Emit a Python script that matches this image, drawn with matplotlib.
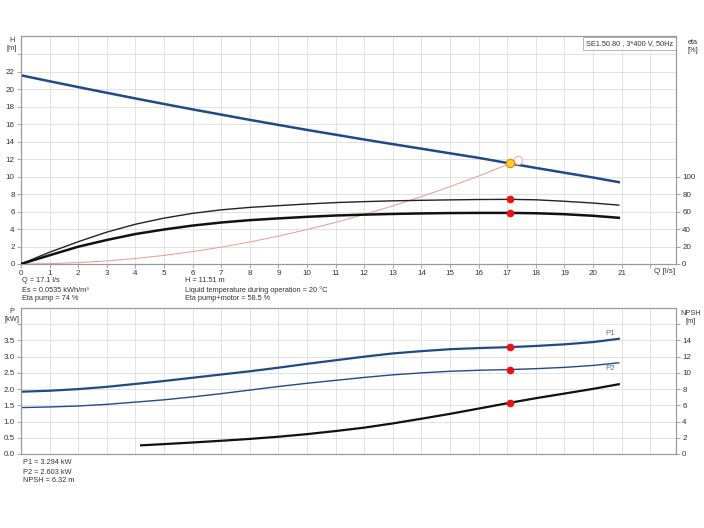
import matplotlib
matplotlib.use("Agg")
import matplotlib.pyplot as plt

# pump curve H(Q)
q_h = [0, 1, 2, 3, 4, 5, 6, 7, 8, 9, 10, 11, 12, 13, 14, 15, 16, 17.1, 18, 19, 20, 20.9]
h = [21.6, 20.92, 20.25, 19.6, 18.95, 18.32, 17.7, 17.1, 16.5, 15.92, 15.35, 14.8, 14.25,
     13.72, 13.2, 12.67, 12.15, 11.51, 11.0, 10.45, 9.9, 9.37]

# efficiency curves [%]
q_eta = [0, 1, 2, 3, 4, 5, 6, 7, 8, 9, 10, 11, 12, 13, 14, 15, 16, 17.1, 18, 19, 20, 20.9]
eta_pump = [0, 13.5, 25.5, 36.5, 45.5, 52.5, 58, 62, 64.8, 66.8, 68.7, 70.3, 71.4, 72.3,
            72.9, 73.4, 73.8, 74, 73.5, 71.8, 69.8, 67.4]
eta_total = [0, 10, 19.8, 27.5, 34.3, 39.5, 44, 47.5, 50.2, 52.2, 54, 55.5, 56.5, 57.3,
             57.9, 58.3, 58.5, 58.5, 58.1, 57, 55.2, 52.9]

# system curve
q_sys = [0, 1, 2, 3, 4, 5, 6, 7, 8, 9, 10, 11, 12, 13, 14, 15, 16, 17.1, 17.37]
h_sys = [0, 0.04, 0.16, 0.35, 0.63, 0.98, 1.42, 1.93, 2.52, 3.19, 3.94, 4.76, 5.67,
         6.65, 7.71, 8.86, 10.07, 11.51, 11.88]

# power and NPSH
q_p = [0, 1, 2, 3, 4, 5, 6, 7, 8, 9, 10, 11, 12, 13, 14, 15, 16, 17.1, 18, 19, 20, 20.9]
p1 = [1.92, 1.95, 2.0, 2.07, 2.16, 2.25, 2.35, 2.45, 2.55, 2.66, 2.78, 2.89, 3.0, 3.1,
      3.17, 3.23, 3.265, 3.294, 3.33, 3.38, 3.45, 3.55]
p2 = [1.43, 1.45, 1.48, 1.53, 1.60, 1.67, 1.76, 1.86, 1.97, 2.08, 2.18, 2.27, 2.36, 2.44,
      2.50, 2.55, 2.58, 2.603, 2.63, 2.67, 2.73, 2.81]
q_npsh = [4.2, 5, 6, 7, 8, 9, 10, 11, 12, 13, 14, 15, 16, 17.1, 18, 19, 20, 20.9]
npsh = [1.07, 1.22, 1.42, 1.63, 1.86, 2.13, 2.45, 2.83, 3.25, 3.77, 4.35, 4.95, 5.6,
        6.32, 6.88, 7.45, 8.03, 8.6]

# duty point
q_op = 17.1
h_op = 11.51
eta_pump_op = 74
eta_total_op = 58.5
p1_op = 3.294
p2_op = 2.603
npsh_op = 6.32

blue = "#1f4a87"
grid_c = "#dddddd"
spine_c = "#999999"
txt_c = "#333333"
fs = 5.3
fs_tick = 5.8

plt.rcParams["font.family"] = ["Liberation Sans", "DejaVu Sans"]

fig = plt.figure(figsize=(7.04, 5.28), dpi=100)


def style(ax, ax2):
    for a in (ax, ax2):
        for s in a.spines.values():
            s.set_color(spine_c)
            s.set_linewidth(0.8)
        a.tick_params(colors=spine_c, labelcolor=txt_c, labelsize=fs_tick, length=3, width=0.6, pad=1.5)
    ax.set_xlim(0, 22.9)
    ax.set_xticks(range(0, 23))
    ax.grid(True, color=grid_c, linewidth=0.6)
    ax.set_axisbelow(True)


# top chart
ax = fig.add_axes([21 / 704, 1 - 264 / 528, 655 / 704, 228 / 528])
ax2 = ax.twinx()
style(ax, ax2)
ax.set_ylim(0, 26.1)
ax.set_yticks(range(0, 25, 2))
ax.set_yticklabels([str(v) for v in range(0, 23, 2)] + [""])
ax.set_xticklabels([str(v) for v in range(0, 22)] + [""])
ax2.set_ylim(0, 261)
ax2.set_yticks(range(0, 101, 20))

ax.plot(q_sys, h_sys, color="#e79a8c", linewidth=0.7, zorder=3)
ax2.plot(q_eta, eta_pump, color="#222222", linewidth=1.0, zorder=3)
ax2.plot(q_eta, eta_total, color="#111111", linewidth=1.8, zorder=3)
ax.plot(q_h, h, color=blue, linewidth=1.8, zorder=4)
ax.plot(q_sys[-1], h_sys[-1], "o", mfc="white", mec="#eab2aa", ms=6, mew=0.8, zorder=5)
ax.plot(q_op, h_op, "o", mfc="#ffcc33", mec="#e08a00", ms=6, mew=0.8, zorder=6)
ax2.plot([q_op, q_op], [eta_pump_op, eta_total_op], "o", color="#ee1111", ms=4.5, ls="none", zorder=6)

ax.text(22.5, -0.5, "Q [l/s]", fontsize=fs_tick, color=txt_c, ha="center", va="top")
ax.text(-0.32, 26.0, "H\n[m]", fontsize=fs, color=txt_c, ha="center", va="top", linespacing=1.2, clip_on=False)
ax2.text(23.5, 258, "eta\n[%]", fontsize=fs, color=txt_c, ha="center", va="top", linespacing=1.2, clip_on=False)
ax.text(0.9962, 0.982, "SE1.50.80 , 3*400 V, 50Hz", transform=ax.transAxes, fontsize=fs, color=txt_c,
        ha="right", va="top",
        bbox=dict(facecolor="white", edgecolor="#aaaaaa", linewidth=0.6, boxstyle="square,pad=0.4"))

info = [("Q = 17.1 l/s", "H = 11.51 m"),
        ("Es = 0.0535 kWh/m\u00b3", "Liquid temperature during operation = 20 \u00b0C"),
        ("Eta pump = 74 %", "Eta pump+motor = 58.5 %")]
for i, (a, b) in enumerate(info):
    y = 281 + i * 9
    fig.text(22 / 704, 1 - y / 528, a, fontsize=fs, color=txt_c, va="center")
    fig.text(185 / 704, 1 - y / 528, b, fontsize=fs, color=txt_c, va="center")

# bottom chart
bx = fig.add_axes([21 / 704, 1 - 454 / 528, 655 / 704, 146 / 528])
bx2 = bx.twinx()
style(bx, bx2)
bx.set_xticklabels([])
bx.tick_params(axis="x", length=0)
bx.set_ylim(0, 4.5)
bx.set_yticks([i * 0.5 for i in range(9)])
bx.set_yticklabels(["%.1f" % (i * 0.5) for i in range(8)] + [""])
bx2.set_ylim(0, 18)
bx2.set_yticks(range(0, 17, 2))
bx2.set_yticklabels([str(v) for v in range(0, 15, 2)] + [""])

bx.plot(q_p, p1, color=blue, linewidth=1.6, zorder=3)
bx.plot(q_p, p2, color=blue, linewidth=1.0, zorder=3)
bx2.plot(q_npsh, npsh, color="#111111", linewidth=1.6, zorder=3)
bx.plot([q_op, q_op], [p1_op, p2_op], "o", color="#ee1111", ms=4.5, ls="none", zorder=5)
bx2.plot(q_op, npsh_op, "o", color="#ee1111", ms=4.5, zorder=5)
bx.text(20.6, 3.62, "P1", fontsize=fs_tick, color="#4a78b0", ha="center", va="bottom")
bx.text(20.6, 2.74, "P2", fontsize=fs_tick, color="#4a78b0", ha="center", va="top")

bx.text(-0.32, 4.5, "P\n[kW]", fontsize=fs, color=txt_c, ha="center", va="top", linespacing=1.2, clip_on=False)
bx2.text(23.4, 17.8, "NPSH\n[m]", fontsize=fs, color=txt_c, ha="center", va="top", linespacing=1.2, clip_on=False)

for i, s in enumerate(["P1 = 3.294 kW", "P2 = 2.603 kW", "NPSH = 6.32 m"]):
    y = 463 + i * 9
    fig.text(23 / 704, 1 - y / 528, s, fontsize=fs, color=txt_c, va="center")

fig.savefig("out.png", dpi=100)
